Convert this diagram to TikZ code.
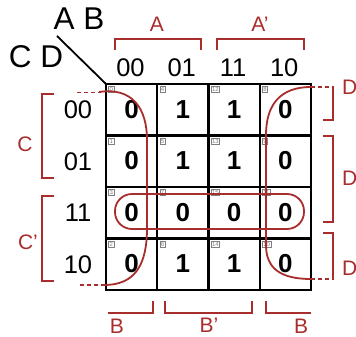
\documentclass[tikz,border=0pt]{standalone}
\usepackage{fontspec}
\setmainfont{Liberation Sans}
\definecolor{kred}{RGB}{168,45,45}
\begin{document}
\begin{tikzpicture}[x=1pt,y=-1pt,
  grid/.style={line width=2.2pt, black},
  redline/.style={line width=1.8pt, kred, line cap=butt},
  dashline/.style={redline, dash pattern=on 4pt off 3pt},
  head/.style={font=\fontsize{25.5}{25.5}\selectfont, inner sep=0pt},
  big/.style={font=\fontsize{31.5}{31.5}\selectfont, inner sep=0pt},
  redlab/.style={font=\fontsize{21}{21}\selectfont, text=kred, inner sep=0pt},
  val/.style={font=\fontsize{26}{26}\selectfont\bfseries, inner sep=0pt},
  idx/.style={draw=gray, line width=0.4pt, text=gray, font=\fontsize{6}{6}\selectfont, inner sep=0.9pt, anchor=north west}
]
\useasboundingbox (0,0) rectangle (356,337);
% grid
\foreach \x in {106,157.25,208.5,259.75,311} \draw[grid] (\x,84) -- (\x,290);
\foreach \y in {84,135.5,187,238.5,290} \draw[grid] (104.9,\y) -- (312.1,\y);
\coordinate (corner) at (106,84);
\coordinate (diag) at (57,36);
\draw[line width=1.8pt] (diag) -- (corner);
% cells
\foreach \c/\r/\v/\n in {0/0/0/0,1/0/1/4,2/0/1/12,3/0/0/8,
                          0/1/0/1,1/1/1/5,2/1/1/13,3/1/0/9,
                          0/2/0/3,1/2/0/7,2/2/0/15,3/2/0/11,
                          0/3/0/2,1/3/1/6,2/3/1/14,3/3/0/10}{
  \node[val] (v\c\r) at ({106+51.25*\c+25.6},{84+51.5*\r+25.5}) {\v};
  \node[idx] (i\c\r) at ({106+51.25*\c+2.4},{84+51.5*\r+2.4}) {\n};
}
% headers
\foreach \t [count=\i from 0] in {00,01,11,10}{
  \node[head] (col\i) at ({106+51.25*\i+24.5},67.5) {\t};
  \node[head] (row\i) at (78,{84+51.5*\i+26}) {\t};
}
\node[big] (ab) at (79,19) {A B};
\node[big] (cd) at (36,57) {C D};
% red group curves
\draw[redline] (99,92) .. controls (132,87) and (147,108) .. (147,140) -- (147,228)
  .. controls (147,265) and (135,285) .. (104,285);
\draw[dashline] (77,92.5) -- (101,92.5);
\draw[dashline] (80,285) -- (106,285);
\draw[redline] (311,87) .. controls (280,87) and (266,105) .. (266,135) -- (266,245)
  .. controls (266,268) and (280,279) .. (311,279);
\draw[dashline] (311,87) -- (333,87);
\draw[dashline] (311,279) -- (333,279);
\draw[redline, rounded corners=17pt] (115,194) rectangle (304,229);
% top brackets
\draw[redline] (115,50) -- (115,39) -- (201,39) -- (201,50);
\draw[redline] (217,50) -- (217,39) -- (304,39) -- (304,50);
\node[redlab] (la) at (157,24) {A};
\node[redlab] (lap) at (260,24) {A'};
% left brackets
\draw[redline] (54,94) -- (42,94) -- (42,178) -- (54,178);
\draw[redline] (54,196) -- (42,196) -- (42,281) -- (54,281);
\node[redlab] (lc) at (25,144) {C};
\node[redlab] (lcp) at (28,242) {C'};
% bottom brackets
\draw[redline] (108,313) -- (153,313) -- (153,301);
\draw[redline] (165,301) -- (165,313) -- (252,313) -- (252,301);
\draw[redline] (266,301) -- (266,313) -- (311,313);
\node[redlab] (lb1) at (117,326) {B};
\node[redlab] (lbp) at (209,325) {B'};
\node[redlab] (lb2) at (301,326) {B};
% right brackets
\draw[redline] (333,86) -- (333,120) -- (323,120);
\draw[redline] (323,136) -- (333,136) -- (333,222) -- (323,222);
\draw[redline] (323,233) -- (333,233) -- (333,280);
\node[redlab, anchor=west] (ld1) at (342,87) {D};
\node[redlab, anchor=west] (ldp) at (342,178) {D'};
\node[redlab, anchor=west] (ld2) at (342,268) {D};
\end{tikzpicture}
\end{document}
